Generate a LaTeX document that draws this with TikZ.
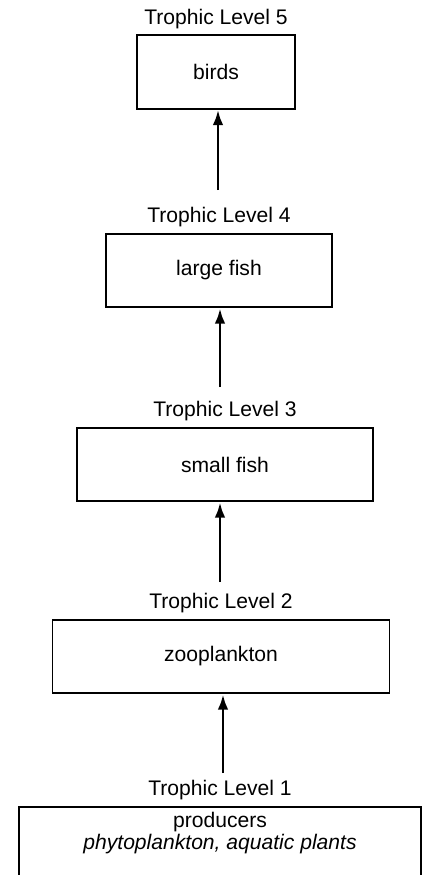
\documentclass[tikz,border=0pt]{standalone}
\usepackage{fontspec}
\setmainfont{Liberation Sans}
\usetikzlibrary{arrows.meta}
\usetikzlibrary{positioning}

\begin{document}
\begin{tikzpicture}[x=0.025cm,y=-0.025cm,
  box/.style={draw,line width=1.2pt,minimum height=1.84cm,font=\fontsize{15}{16}\selectfont},
  lvl/.style={inner sep=0pt,font=\fontsize{15}{16}\selectfont},
  feed/.style={line width=2.1pt,-{Latex[length=11pt,width=7.5pt]}}]
\clip (0,0) rectangle (428,875);

\foreach \n/\x/\y/\w/\t in {5/216/72/3.95/birds,4/219/270.5/5.65/large fish,3/225/464.5/7.4/small fish,2/221/656.5/8.425/zooplankton}
{\node[box,minimum width=\w cm] (b\n) at (\x,\y) {\t};
\node[lvl,above=4pt of b\n] (l\n) {Trophic Level \n};}

% producers, box runs off the bottom
\node[box,minimum width=10.05cm,minimum height=3cm,anchor=north] (b1) at (220,806) {};
\node[lvl,align=center,below=4pt of b1.north] (p1) {producers\\\textit{phytoplankton, aquatic plants}};
\node[lvl,above=4pt of b1] (l1) {Trophic Level 1};

\foreach \n/\x/\y in {2/223/773,3/220/582,4/220/387,5/218/190}
{\coordinate (t\n) at (\x,\y);
\draw[feed] (t\n) -- (t\n |- b\n.south);}

\end{tikzpicture}
\end{document}
